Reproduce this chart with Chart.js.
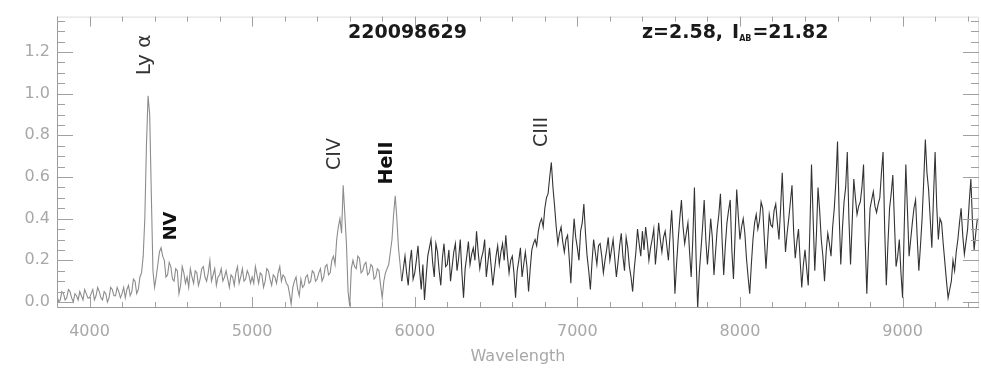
<!DOCTYPE html>
<html>
<head>
<meta charset="utf-8">
<script src="https://cdn.jsdelivr.net/npm/chart.js@4"></script>
<style>
  html, body { margin: 0; padding: 0; background: #fff; }
  #wrap { width: 981px; height: 372px; }
</style>
</head>
<body>
<div id="wrap"><canvas id="spec"></canvas></div>
<script>
// spectrum (wavelength in A, relative flux), 10 A apart
const wavelength = [
  3800, 3810, 3820, 3830, 3840, 3850, 3860, 3870, 3880, 3890, 3900, 3910, 3920, 3930, 3940, 3950, 3960, 3970, 3980, 3990,
  4000, 4010, 4020, 4030, 4040, 4050, 4060, 4070, 4080, 4090, 4100, 4110, 4120, 4130, 4140, 4150, 4160, 4170, 4180, 4190,
  4200, 4210, 4220, 4230, 4240, 4250, 4260, 4270, 4280, 4290, 4300, 4310, 4320, 4330, 4340, 4350, 4360, 4370, 4380, 4390,
  4400, 4410, 4420, 4430, 4440, 4450, 4460, 4470, 4480, 4490, 4500, 4510, 4520, 4530, 4540, 4550, 4560, 4570, 4580, 4590,
  4600, 4610, 4620, 4630, 4640, 4650, 4660, 4670, 4680, 4690, 4700, 4710, 4720, 4730, 4740, 4750, 4760, 4770, 4780, 4790,
  4800, 4810, 4820, 4830, 4840, 4850, 4860, 4870, 4880, 4890, 4900, 4910, 4920, 4930, 4940, 4950, 4960, 4970, 4980, 4990,
  5000, 5010, 5020, 5030, 5040, 5050, 5060, 5070, 5080, 5090, 5100, 5110, 5120, 5130, 5140, 5150, 5160, 5170, 5180, 5190,
  5200, 5210, 5220, 5230, 5240, 5250, 5260, 5270, 5280, 5290, 5300, 5310, 5320, 5330, 5340, 5350, 5360, 5370, 5380, 5390,
  5400, 5410, 5420, 5430, 5440, 5450, 5460, 5470, 5480, 5490, 5500, 5510, 5520, 5530, 5540, 5550, 5560, 5570, 5580, 5590,
  5600, 5610, 5620, 5630, 5640, 5650, 5660, 5670, 5680, 5690, 5700, 5710, 5720, 5730, 5740, 5750, 5760, 5770, 5780, 5790,
  5800, 5810, 5820, 5830, 5840, 5850, 5860, 5870, 5880, 5890, 5900, 5910, 5920, 5930, 5940, 5950, 5960, 5970, 5980, 5990,
  6000, 6010, 6020, 6030, 6040, 6050, 6060, 6070, 6080, 6090, 6100, 6110, 6120, 6130, 6140, 6150, 6160, 6170, 6180, 6190,
  6200, 6210, 6220, 6230, 6240, 6250, 6260, 6270, 6280, 6290, 6300, 6310, 6320, 6330, 6340, 6350, 6360, 6370, 6380, 6390,
  6400, 6410, 6420, 6430, 6440, 6450, 6460, 6470, 6480, 6490, 6500, 6510, 6520, 6530, 6540, 6550, 6560, 6570, 6580, 6590,
  6600, 6610, 6620, 6630, 6640, 6650, 6660, 6670, 6680, 6690, 6700, 6710, 6720, 6730, 6740, 6750, 6760, 6770, 6780, 6790,
  6800, 6810, 6820, 6830, 6840, 6850, 6860, 6870, 6880, 6890, 6900, 6910, 6920, 6930, 6940, 6950, 6960, 6970, 6980, 6990,
  7000, 7010, 7020, 7030, 7040, 7050, 7060, 7070, 7080, 7090, 7100, 7110, 7120, 7130, 7140, 7150, 7160, 7170, 7180, 7190,
  7200, 7210, 7220, 7230, 7240, 7250, 7260, 7270, 7280, 7290, 7300, 7310, 7320, 7330, 7340, 7350, 7360, 7370, 7380, 7390,
  7400, 7410, 7420, 7430, 7440, 7450, 7460, 7470, 7480, 7490, 7500, 7510, 7520, 7530, 7540, 7550, 7560, 7570, 7580, 7590,
  7600, 7610, 7620, 7630, 7640, 7650, 7660, 7670, 7680, 7690, 7700, 7710, 7720, 7730, 7740, 7750, 7760, 7770, 7780, 7790,
  7800, 7810, 7820, 7830, 7840, 7850, 7860, 7870, 7880, 7890, 7900, 7910, 7920, 7930, 7940, 7950, 7960, 7970, 7980, 7990,
  8000, 8010, 8020, 8030, 8040, 8050, 8060, 8070, 8080, 8090, 8100, 8110, 8120, 8130, 8140, 8150, 8160, 8170, 8180, 8190,
  8200, 8210, 8220, 8230, 8240, 8250, 8260, 8270, 8280, 8290, 8300, 8310, 8320, 8330, 8340, 8350, 8360, 8370, 8380, 8390,
  8400, 8410, 8420, 8430, 8440, 8450, 8460, 8470, 8480, 8490, 8500, 8510, 8520, 8530, 8540, 8550, 8560, 8570, 8580, 8590,
  8600, 8610, 8620, 8630, 8640, 8650, 8660, 8670, 8680, 8690, 8700, 8710, 8720, 8730, 8740, 8750, 8760, 8770, 8780, 8790,
  8800, 8810, 8820, 8830, 8840, 8850, 8860, 8870, 8880, 8890, 8900, 8910, 8920, 8930, 8940, 8950, 8960, 8970, 8980, 8990,
  9000, 9010, 9020, 9030, 9040, 9050, 9060, 9070, 9080, 9090, 9100, 9110, 9120, 9130, 9140, 9150, 9160, 9170, 9180, 9190,
  9200, 9210, 9220, 9230, 9240, 9250, 9260, 9270, 9280, 9290, 9300, 9310, 9320, 9330, 9340, 9350, 9360, 9370, 9380, 9390,
  9400, 9410, 9420, 9430, 9440, 9450, 9460
];
const flux = [
  0.03, 0.00, 0.01, 0.05, 0.04, 0.01, 0.02, 0.06, 0.05, 0.02, 0.00, 0.04, 0.03, 0.01, 0.05, 0.03, 0.01, 0.06, 0.04, 0.02,
  0.02, 0.04, 0.06, 0.01, 0.03, 0.07, 0.05, 0.02, 0.01, 0.05, 0.04, 0.00, 0.02, 0.07, 0.06, 0.03, 0.03, 0.07, 0.05, 0.02,
  0.04, 0.07, 0.02, 0.06, 0.08, 0.03, 0.05, 0.11, 0.10, 0.04, 0.06, 0.12, 0.14, 0.22, 0.40, 0.75, 0.99, 0.90, 0.52, 0.15,
  0.07, 0.12, 0.18, 0.24, 0.26, 0.22, 0.20, 0.12, 0.13, 0.19, 0.17, 0.11, 0.10, 0.16, 0.15, 0.04, 0.08, 0.17, 0.14, 0.09,
  0.12, 0.07, 0.16, 0.12, 0.09, 0.15, 0.14, 0.08, 0.11, 0.16, 0.17, 0.12, 0.10, 0.14, 0.20, 0.10, 0.13, 0.16, 0.08, 0.12,
  0.13, 0.16, 0.10, 0.12, 0.15, 0.11, 0.07, 0.13, 0.12, 0.08, 0.14, 0.17, 0.09, 0.12, 0.16, 0.10, 0.11, 0.15, 0.13, 0.09,
  0.12, 0.09, 0.17, 0.13, 0.09, 0.14, 0.13, 0.07, 0.10, 0.16, 0.15, 0.11, 0.08, 0.13, 0.12, 0.09, 0.14, 0.17, 0.10, 0.13,
  0.12, 0.09, 0.08, 0.04, -0.01, 0.07, 0.10, 0.12, 0.06, 0.03, 0.11, 0.07, 0.08, 0.12, 0.13, 0.09, 0.10, 0.15, 0.14, 0.10,
  0.11, 0.14, 0.16, 0.10, 0.12, 0.17, 0.18, 0.13, 0.14, 0.20, 0.22, 0.18, 0.30, 0.36, 0.40, 0.33, 0.56, 0.42, 0.28, 0.05,
  -0.02, 0.16, 0.20, 0.17, 0.16, 0.22, 0.21, 0.14, 0.15, 0.18, 0.19, 0.13, 0.14, 0.18, 0.17, 0.11, 0.12, 0.16, 0.15, 0.08,
  0.02, 0.10, 0.14, 0.16, 0.18, 0.24, 0.30, 0.42, 0.51, 0.40, 0.26, 0.18, 0.10, 0.16, 0.22, 0.14, 0.08, 0.19, 0.25, 0.11,
  0.14, 0.20, 0.27, 0.15, 0.06, 0.18, 0.01, 0.12, 0.22, 0.26, 0.30, 0.19, 0.12, 0.28, 0.24, 0.15, 0.08, 0.21, 0.28, 0.17,
  0.18, 0.25, 0.10, 0.17, 0.24, 0.28, 0.15, 0.21, 0.30, 0.14, 0.02, 0.16, 0.22, 0.29, 0.18, 0.23, 0.26, 0.20, 0.34, 0.24,
  0.16, 0.21, 0.24, 0.30, 0.12, 0.19, 0.26, 0.17, 0.08, 0.15, 0.22, 0.27, 0.18, 0.24, 0.28, 0.20, 0.32, 0.22, 0.14, 0.20,
  0.22, 0.14, 0.02, 0.15, 0.20, 0.26, 0.12, 0.18, 0.24, 0.17, 0.05, 0.16, 0.25, 0.28, 0.30, 0.27, 0.34, 0.38, 0.40, 0.36,
  0.45, 0.50, 0.52, 0.60, 0.67, 0.55, 0.46, 0.36, 0.28, 0.33, 0.36, 0.29, 0.24, 0.30, 0.32, 0.21, 0.09, 0.27, 0.40, 0.31,
  0.26, 0.20, 0.34, 0.38, 0.47, 0.33, 0.22, 0.15, 0.06, 0.19, 0.30, 0.24, 0.18, 0.27, 0.28, 0.22, 0.14, 0.20, 0.25, 0.31,
  0.20, 0.25, 0.30, 0.21, 0.12, 0.19, 0.27, 0.33, 0.22, 0.15, 0.31, 0.26, 0.17, 0.12, 0.05, 0.16, 0.24, 0.35, 0.28, 0.22,
  0.34, 0.25, 0.36, 0.29, 0.20, 0.26, 0.30, 0.35, 0.18, 0.27, 0.38, 0.30, 0.24, 0.31, 0.34, 0.27, 0.20, 0.32, 0.44, 0.28,
  0.04, 0.18, 0.30, 0.40, 0.49, 0.36, 0.28, 0.33, 0.38, 0.24, 0.12, 0.30, 0.55, 0.22, -0.03, 0.14, 0.25, 0.36, 0.49, 0.30,
  0.18, 0.28, 0.40, 0.31, 0.13, 0.24, 0.35, 0.42, 0.52, 0.30, 0.13, 0.27, 0.38, 0.44, 0.49, 0.25, 0.11, 0.32, 0.54, 0.41,
  0.30, 0.36, 0.40, 0.33, 0.21, 0.12, 0.04, 0.18, 0.30, 0.38, 0.42, 0.35, 0.39, 0.48, 0.45, 0.30, 0.16, 0.29, 0.42, 0.37,
  0.36, 0.44, 0.47, 0.38, 0.30, 0.45, 0.62, 0.41, 0.24, 0.33, 0.40, 0.48, 0.56, 0.34, 0.21, 0.29, 0.35, 0.20, 0.07, 0.18,
  0.25, 0.16, 0.08, 0.35, 0.66, 0.40, 0.15, 0.32, 0.55, 0.44, 0.30, 0.22, 0.10, 0.24, 0.33, 0.28, 0.22, 0.36, 0.45, 0.58,
  0.77, 0.42, 0.18, 0.35, 0.48, 0.55, 0.72, 0.40, 0.18, 0.38, 0.59, 0.50, 0.42, 0.46, 0.48, 0.55, 0.66, 0.30, 0.04, 0.26,
  0.45, 0.49, 0.53, 0.46, 0.43, 0.47, 0.50, 0.62, 0.72, 0.35, 0.08, 0.28, 0.45, 0.52, 0.61, 0.38, 0.17, 0.22, 0.30, 0.14,
  0.02, 0.35, 0.66, 0.44, 0.22, 0.30, 0.38, 0.45, 0.49, 0.31, 0.15, 0.27, 0.40, 0.58, 0.78, 0.62, 0.54, 0.40, 0.26, 0.50,
  0.72, 0.46, 0.30, 0.40, 0.38, 0.28, 0.19, 0.10, 0.02, 0.06, 0.10, 0.20, 0.15, 0.24, 0.30, 0.38, 0.45, 0.32, 0.23, 0.29,
  0.35, 0.48, 0.59, 0.38, 0.25, 0.33, 0.40
];

const xTicks = [4000, 5000, 6000, 7000, 8000, 9000];
const yTicks = [0.0, 0.2, 0.4, 0.6, 0.8, 1.0, 1.2];

// emission line labels and the wavelength they sit over
const lineNames = ["Ly \u03b1", "NV", "CIV", "HeII", "CIII"];
const lineWaves = [4337, 4503, 5509, 5828, 6785];

const objectId = "220098629";
const redshiftText = "z=2.58,";
const magText = "=21.82";

const points = wavelength.map((w, i) => ({ x: w, y: flux[i] }));

// frame, inward ticks and the text drawn over the plot
const decor = {
  id: "decor",
  afterDraw(chart) {
    const { ctx, chartArea: a, scales: { x, y } } = chart;
    ctx.save();
    ctx.lineWidth = 1;

    ctx.strokeStyle = "#9a9a9a";
    ctx.beginPath();
    ctx.moveTo(a.left + 0.5, a.top);
    ctx.lineTo(a.left + 0.5, a.bottom + 0.5);
    ctx.lineTo(a.right, a.bottom + 0.5);
    ctx.stroke();

    ctx.strokeStyle = "#dcdcdc";
    ctx.beginPath();
    ctx.moveTo(a.left, a.top + 0.5);
    ctx.lineTo(a.right - 0.5, a.top + 0.5);
    ctx.lineTo(a.right - 0.5, a.bottom);
    ctx.stroke();

    ctx.strokeStyle = "#a0a0a0";
    ctx.beginPath();
    for (let v = 3800; v <= 9470; v += 200) {
      const px = Math.round(x.getPixelForValue(v)) + 0.5;
      const len = v % 1000 === 0 ? 10 : 5;
      ctx.moveTo(px, a.bottom);
      ctx.lineTo(px, a.bottom - len);
      ctx.moveTo(px, a.top);
      ctx.lineTo(px, a.top + len);
    }
    for (let k = 0; k <= 27; k++) {
      const v = k * 0.05;
      const py = Math.round(y.getPixelForValue(v)) + 0.5;
      const len = k % 4 === 0 ? 16 : 8;
      ctx.moveTo(a.left, py);
      ctx.lineTo(a.left + len, py);
      ctx.moveTo(a.right, py);
      ctx.lineTo(a.right - len, py);
    }
    ctx.stroke();

    // line labels, rotated to read upward
    const labelY = [55, 226, 154, 163, 132];
    const labelBold = [false, true, false, true, false];
    const labelSize = [20, 18, 19, 19, 19];
    ctx.textAlign = "center";
    ctx.textBaseline = "middle";
    lineNames.forEach((name, i) => {
      ctx.save();
      ctx.translate(x.getPixelForValue(lineWaves[i]), labelY[i]);
      ctx.rotate(-Math.PI / 2);
      ctx.font = (labelBold[i] ? "bold " : "") + labelSize[i] + "px 'DejaVu Sans'";
      ctx.fillStyle = labelBold[i] ? "#111" : "#333";
      ctx.fillText(name, 0, 0);
      ctx.restore();
    });

    // header texts
    ctx.textAlign = "left";
    ctx.textBaseline = "alphabetic";
    ctx.fillStyle = "#1a1a1a";
    ctx.font = "bold 19px 'DejaVu Sans'";
    ctx.fillText(objectId, 348, 38);

    let tx = 642;
    ctx.fillText(redshiftText, tx, 38);
    tx += ctx.measureText(redshiftText).width + 9;
    ctx.fillText("I", tx, 38);
    tx += ctx.measureText("I").width;
    ctx.font = "bold 8px 'DejaVu Sans'";
    ctx.fillText("AB", tx, 41);
    tx += ctx.measureText("AB").width + 1;
    ctx.font = "bold 19px 'DejaVu Sans'";
    ctx.fillText(magText, tx, 38);

    ctx.restore();
  }
};

new Chart(document.getElementById("spec"), {
  type: "line",
  data: {
    datasets: [{
      data: points,
      borderColor: "#3a3a3a",
      borderWidth: 1.1,
      pointRadius: 0,
      tension: 0,
      segment: {
        borderColor: c => c.p0.parsed.x < 5920 ? "#8c8c8c" : "#333333"
      }
    }]
  },
  options: {
    responsive: true,
    maintainAspectRatio: false,
    animation: false,
    layout: { padding: { top: 13, right: 2, left: 0, bottom: 0 } },
    plugins: { legend: { display: false }, tooltip: { enabled: false } },
    scales: {
      x: {
        type: "linear",
        min: 3800,
        max: 9470,
        afterFit: s => { s.height = 65; },
        afterBuildTicks: s => { s.ticks = xTicks.map(v => ({ value: v })); },
        grid: { display: false, drawTicks: false },
        border: { display: false },
        ticks: {
          padding: 15,
          color: "#a8a8a8",
          font: { family: "DejaVu Sans", size: 16 },
          maxRotation: 0,
          callback: v => String(v)
        },
        title: {
          display: true,
          text: "Wavelength",
          color: "#a8a8a8",
          font: { family: "DejaVu Sans", size: 16 },
          padding: { top: 0, bottom: 6 }
        }
      },
      y: {
        min: -0.024,
        max: 1.37,
        afterFit: s => { s.width = 57; },
        afterBuildTicks: s => { s.ticks = yTicks.map(v => ({ value: v })); },
        grid: { display: false, drawTicks: false },
        border: { display: false },
        ticks: {
          padding: 7,
          color: "#a8a8a8",
          font: { family: "DejaVu Sans", size: 16 },
          callback: v => v.toFixed(1)
        }
      }
    }
  },
  plugins: [decor]
});
</script>
</body>
</html>
